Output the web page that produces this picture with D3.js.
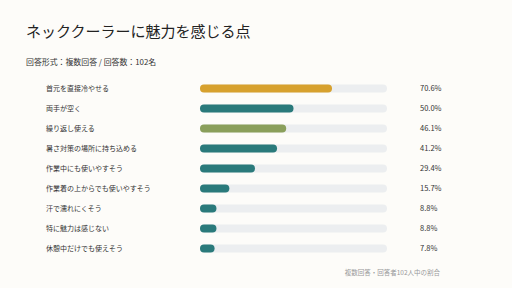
<!DOCTYPE html>
<html>
<head>
<meta charset="utf-8">
<script src="https://cdn.jsdelivr.net/npm/d3@7"></script>
<style>
  html, body { margin: 0; padding: 0; background: #fdfcf9; }
  svg { display: block; font-family: "Noto Sans CJK JP", "Noto Sans", sans-serif; }
</style>
</head>
<body>
<script>
// chart data
const labels = [
  "首元を直接冷やせる",
  "両手が空く",
  "繰り返し使える",
  "暑さ対策の場所に持ち込める",
  "作業中にも使いやすそう",
  "作業着の上からでも使いやすそう",
  "汗で濡れにくそう",
  "特に魅力は感じない",
  "休憩中だけでも使えそう"
];
const values = [70.6, 50.0, 46.1, 41.2, 29.4, 15.7, 8.8, 8.8, 7.8];
const barColors = ["#d7a12e", "#2a7a7b", "#8a9f5b", "#2a7a7b", "#2a7a7b", "#2a7a7b", "#2a7a7b", "#2a7a7b", "#2a7a7b"];

const title = "ネッククーラーに魅力を感じる点";
const subtitle = "回答形式：複数回答 / 回答数：102名";
const footnote = "複数回答・回答者102人中の割合";

const W = 512, H = 288;

const svg = d3.select("body").append("svg")
    .attr("width", W)
    .attr("height", H);

svg.append("rect").attr("width", W).attr("height", H).attr("fill", "#fdfcf9");

// title + subtitle
svg.append("text")
    .attr("x", 26).attr("y", 37)
    .attr("font-size", 15)
    .attr("fill", "#222")
    .text(title);

svg.append("text")
    .attr("x", 26).attr("y", 65)
    .attr("font-size", 7.9)
    .attr("fill", "#333")
    .text(subtitle);

// scales
const x = d3.scaleLinear().domain([0, 100]).range([200, 387]);
const y = d3.scaleBand().domain(labels).range([78.5, 258.5]).padding(0);
const barH = 8;

const rows = svg.append("g").selectAll("g")
    .data(labels)
    .join("g")
    .attr("transform", d => `translate(0,${y(d) + y.bandwidth() / 2})`);

// background tracks
rows.append("rect")
    .attr("x", x(0))
    .attr("y", -barH / 2)
    .attr("width", x(100) - x(0))
    .attr("height", barH)
    .attr("rx", barH / 2)
    .attr("fill", "#eceef0");

// value bars
rows.append("rect")
    .attr("x", x(0))
    .attr("y", -barH / 2)
    .attr("width", (d, i) => x(values[i]) - x(0))
    .attr("height", barH)
    .attr("rx", barH / 2)
    .attr("fill", (d, i) => barColors[i]);

// category labels
rows.append("text")
    .attr("x", 46)
    .attr("dy", "0.35em")
    .attr("font-size", 7)
    .attr("fill", "#333")
    .text(d => d);

// value labels
rows.append("text")
    .attr("x", 420)
    .attr("dy", "0.35em")
    .attr("font-size", 7.5)
    .attr("fill", "#333")
    .text((d, i) => values[i].toFixed(1) + "%");

svg.append("text")
    .attr("x", 440).attr("y", 275)
    .attr("text-anchor", "end")
    .attr("font-size", 6.5)
    .attr("fill", "#999")
    .text(footnote);
</script>
</body>
</html>
